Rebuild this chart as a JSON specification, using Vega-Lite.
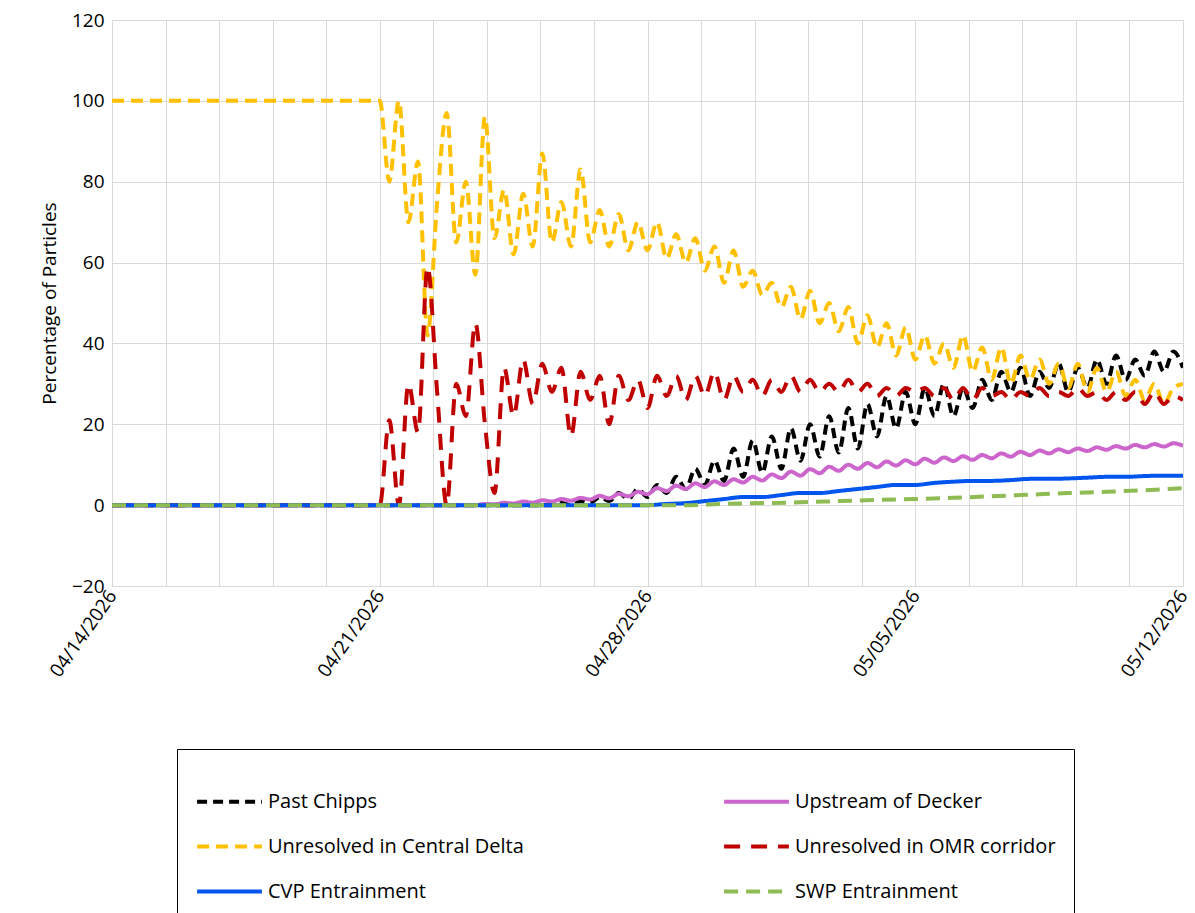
{
  "$schema": "https://vega.github.io/schema/vega-lite/v6.json",
  "width": 1071,
  "height": 566,
  "autosize": "none",
  "padding": {"left": 112, "top": 20, "right": 12, "bottom": 327},
  "background": "white",
  "config": {
    "font": "Open Sans",
    "view": {"stroke": "#d9d9d9"},
    "axis": {"gridColor": "#d9d9d9", "domain": false, "ticks": false, "labelFontSize": 19, "labelColor": "#000", "titleFontSize": 19, "titleFontWeight": "normal", "titleColor": "#000"}
  },
  "data": {"values": [
    {"t":0,"cd":100,"omr":0,"chp":0,"dek":0,"cvp":0,"swp":0},
    {"t":7,"cd":100,"omr":0,"chp":0,"dek":0,"cvp":0,"swp":0},
    {"t":7.25,"cd":80,"omr":21,"chp":0,"dek":0},
    {"t":7.5,"cd":100,"omr":0,"chp":0,"dek":0},
    {"t":7.75,"cd":70,"omr":30,"chp":0,"dek":0},
    {"t":8,"cd":85,"omr":18,"chp":0,"dek":0,"cvp":0,"swp":0},
    {"t":8.25,"cd":42,"omr":59,"chp":0,"dek":0},
    {"t":8.5,"cd":75,"omr":28,"chp":0,"dek":0},
    {"t":8.75,"cd":97,"omr":0,"chp":0,"dek":0},
    {"t":9,"cd":65,"omr":30,"chp":0,"dek":0,"cvp":0,"swp":0},
    {"t":9.25,"cd":80,"omr":22,"chp":0,"dek":0},
    {"t":9.5,"cd":57,"omr":45,"chp":0,"dek":0},
    {"t":9.75,"cd":96,"omr":20,"chp":0,"dek":0.3},
    {"t":10,"cd":66,"omr":3,"chp":0,"dek":0.2,"cvp":0,"swp":0},
    {"t":10.25,"cd":78,"omr":34,"chp":0,"dek":0.6},
    {"t":10.5,"cd":62,"omr":22,"chp":0,"dek":0.4},
    {"t":10.75,"cd":77,"omr":36,"chp":0,"dek":0.9},
    {"t":11,"cd":64,"omr":25,"chp":0,"dek":0.6,"cvp":0,"swp":0},
    {"t":11.25,"cd":87,"omr":35,"chp":0,"dek":1.2},
    {"t":11.5,"cd":65,"omr":28,"chp":0,"dek":0.9},
    {"t":11.75,"cd":75,"omr":34,"chp":0.5,"dek":1.5},
    {"t":12,"cd":64,"omr":17,"chp":0,"dek":1.1,"cvp":0,"swp":0},
    {"t":12.25,"cd":83,"omr":33,"chp":1,"dek":1.8},
    {"t":12.5,"cd":65,"omr":26,"chp":0.5,"dek":1.4},
    {"t":12.75,"cd":73,"omr":32,"chp":2,"dek":2.3},
    {"t":13,"cd":64,"omr":20,"chp":1,"dek":1.7,"cvp":0,"swp":0},
    {"t":13.25,"cd":72,"omr":32,"chp":3,"dek":2.8},
    {"t":13.5,"cd":63,"omr":26,"chp":1.5,"dek":2.2},
    {"t":13.75,"cd":70,"omr":31,"chp":4,"dek":3.3},
    {"t":14,"cd":63,"omr":24,"chp":2,"dek":2.7,"cvp":0,"swp":0},
    {"t":14.25,"cd":70,"omr":32,"chp":5,"dek":4.2},
    {"t":14.5,"cd":61,"omr":27,"chp":3,"dek":3.5,"cvp":0.3},
    {"t":14.75,"cd":67,"omr":32,"chp":7,"dek":4.8},
    {"t":15,"cd":60,"omr":26,"chp":4,"dek":4,"cvp":0.5,"swp":0},
    {"t":15.25,"cd":66,"omr":32,"chp":9,"dek":5.4},
    {"t":15.5,"cd":58,"omr":27,"chp":5,"dek":4.5,"cvp":1},
    {"t":15.75,"cd":64,"omr":33,"chp":11,"dek":5.9},
    {"t":16,"cd":55,"omr":26,"chp":6,"dek":5,"cvp":1.5,"swp":0.3},
    {"t":16.25,"cd":63,"omr":32,"chp":14,"dek":6.4},
    {"t":16.5,"cd":54,"omr":28,"chp":7,"dek":5.6,"cvp":2},
    {"t":16.75,"cd":58,"omr":31,"chp":16,"dek":7},
    {"t":17,"cd":52,"omr":27,"chp":8,"dek":6.1,"cvp":2,"swp":0.5},
    {"t":17.25,"cd":55,"omr":31,"chp":17,"dek":7.6},
    {"t":17.5,"cd":49,"omr":28,"chp":9,"dek":6.7,"cvp":2.5},
    {"t":17.75,"cd":54,"omr":32,"chp":19,"dek":8.3},
    {"t":18,"cd":46,"omr":28,"chp":11,"dek":7.3,"cvp":3,"swp":0.7},
    {"t":18.25,"cd":53,"omr":31,"chp":20,"dek":8.9},
    {"t":18.5,"cd":45,"omr":28,"chp":12,"dek":7.9,"cvp":3},
    {"t":18.75,"cd":50,"omr":30,"chp":22,"dek":9.5},
    {"t":19,"cd":43,"omr":28,"chp":13,"dek":8.5,"cvp":3.5,"swp":1},
    {"t":19.25,"cd":49,"omr":31,"chp":24,"dek":10},
    {"t":19.5,"cd":40,"omr":28,"chp":14,"dek":9,"cvp":4},
    {"t":19.75,"cd":47,"omr":30,"chp":25,"dek":10.4},
    {"t":20,"cd":39,"omr":27,"chp":17,"dek":9.4,"cvp":4.5,"swp":1.3},
    {"t":20.25,"cd":45,"omr":29,"chp":27,"dek":10.8},
    {"t":20.5,"cd":37,"omr":27,"chp":19,"dek":9.8,"cvp":5},
    {"t":20.75,"cd":44,"omr":29,"chp":28,"dek":11.1},
    {"t":21,"cd":36,"omr":28,"chp":20,"dek":10.1,"cvp":5,"swp":1.5},
    {"t":21.25,"cd":42,"omr":29,"chp":29,"dek":11.5},
    {"t":21.5,"cd":35,"omr":27,"chp":22,"dek":10.5,"cvp":5.5},
    {"t":21.75,"cd":40,"omr":29,"chp":30,"dek":11.8},
    {"t":22,"cd":34,"omr":26,"chp":22,"dek":10.9,"cvp":5.8,"swp":1.8},
    {"t":22.25,"cd":42,"omr":29,"chp":29,"dek":12.1},
    {"t":22.5,"cd":33,"omr":26,"chp":24,"dek":11.2,"cvp":6},
    {"t":22.75,"cd":39,"omr":29,"chp":31,"dek":12.4},
    {"t":23,"cd":31,"omr":27,"chp":26,"dek":11.6,"cvp":6,"swp":2.2},
    {"t":23.25,"cd":39,"omr":28,"chp":33,"dek":12.8},
    {"t":23.5,"cd":30,"omr":26,"chp":28,"dek":12,"cvp":6.2},
    {"t":23.75,"cd":37,"omr":28,"chp":34,"dek":13.2},
    {"t":24,"cd":31,"omr":27,"chp":27,"dek":12.4,"cvp":6.5,"swp":2.6},
    {"t":24.25,"cd":36,"omr":29,"chp":33,"dek":13.5},
    {"t":24.5,"cd":30,"omr":27,"chp":29,"dek":12.8,"cvp":6.5},
    {"t":24.75,"cd":35,"omr":28,"chp":35,"dek":13.8},
    {"t":25,"cd":29,"omr":27,"chp":28,"dek":13.1,"cvp":6.6,"swp":3},
    {"t":25.25,"cd":35,"omr":29,"chp":34,"dek":14},
    {"t":25.5,"cd":28,"omr":27,"chp":29,"dek":13.4,"cvp":6.8},
    {"t":25.75,"cd":34,"omr":28,"chp":36,"dek":14.3},
    {"t":26,"cd":28,"omr":26,"chp":30,"dek":13.7,"cvp":7,"swp":3.3},
    {"t":26.25,"cd":33,"omr":28,"chp":37,"dek":14.6},
    {"t":26.5,"cd":27,"omr":26,"chp":31,"dek":14,"cvp":7},
    {"t":26.75,"cd":31,"omr":28,"chp":36,"dek":14.9},
    {"t":27,"cd":26,"omr":25,"chp":32,"dek":14.3,"cvp":7.2,"swp":3.7},
    {"t":27.25,"cd":30,"omr":28,"chp":38,"dek":15.1},
    {"t":27.5,"cd":25,"omr":25,"chp":33,"dek":14.5,"cvp":7.3},
    {"t":27.75,"cd":29,"omr":27,"chp":38,"dek":15.3},
    {"t":28,"cd":30,"omr":26,"chp":34,"dek":14.7,"cvp":7.3,"swp":4.2}
  ]},
  "transform": [
    {"fold": ["chp", "dek", "cd", "omr", "cvp", "swp"], "as": ["series", "v"]},
    {"filter": "isValid(datum.v)"}
  ],
  "mark": {"type": "line", "strokeWidth": 4, "clip": true, "interpolate": "monotone"},
  "encoding": {
    "x": {
      "field": "t", "type": "quantitative",
      "scale": {"domain": [0, 28], "nice": false, "zero": false},
      "axis": {
        "title": null,
        "values": [0, 1.4, 2.8, 4.2, 5.6, 7, 8.4, 9.8, 11.2, 12.6, 14, 15.4, 16.8, 18.2, 19.6, 21, 22.4, 23.8, 25.2, 26.6, 28],
        "labelExpr": "datum.value == 0 ? '04/14/2026' : datum.value == 7 ? '04/21/2026' : datum.value == 14 ? '04/28/2026' : datum.value == 21 ? '05/05/2026' : datum.value == 28 ? '05/12/2026' : ''",
        "labelAngle": -55,
        "labelAlign": "right",
        "labelBaseline": "middle",
        "labelPadding": 6,
        "labelOverlap": false,
        "labelBound": false,
        "labelFlush": false
      }
    },
    "y": {
      "field": "v", "type": "quantitative",
      "scale": {"domain": [-20, 120], "nice": false},
      "axis": {"title": "Percentage of Particles", "values": [-20, 0, 20, 40, 60, 80, 100, 120], "labelPadding": 8, "titlePadding": 12}
    },
    "order": {"field": "t", "type": "quantitative"},
    "color": {
      "field": "series", "type": "nominal",
      "scale": {
        "domain": ["chp", "dek", "cd", "omr", "cvp", "swp"],
        "range": ["#000000", "#cc66cc", "#ffc000", "#c00000", "#0055ee", "#8fbc52"]
      },
      "legend": {
        "title": null,
        "orient": "none",
        "legendX": 65,
        "legendY": 729,
        "columns": 2,
        "direction": "horizontal",
        "padding": 18,
        "strokeColor": "#000",
        "symbolType": "stroke",
        "symbolSize": 4200,
        "symbolStrokeWidth": 4,
        "labelFontSize": 20,
        "labelLimit": 400,
        "columnPadding": 187,
        "rowPadding": -21,
        "gridAlign": "all",
        "labelExpr": "{'chp': 'Past Chipps', 'dek': 'Upstream of Decker', 'cd': 'Unresolved in Central Delta', 'omr': 'Unresolved in OMR corridor', 'cvp': 'CVP Entrainment', 'swp': 'SWP Entrainment'}[datum.value]"
      }
    },
    "strokeDash": {
      "field": "series", "type": "nominal",
      "scale": {
        "domain": ["chp", "dek", "cd", "omr", "cvp", "swp"],
        "range": [[10, 6], [1, 0], [12, 7], [16, 11], [1, 0], [14, 8]]
      },
      "legend": null
    }
  }
}
